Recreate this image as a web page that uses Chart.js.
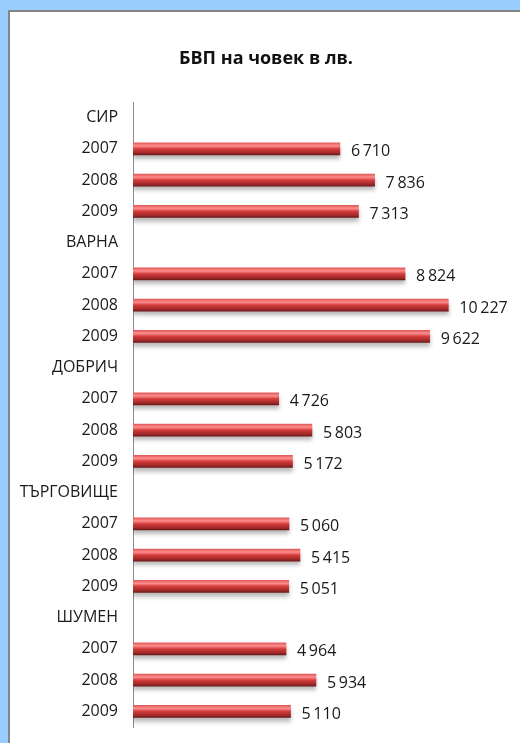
<!DOCTYPE html>
<html>
<head>
<meta charset="utf-8">
<script src="https://cdn.jsdelivr.net/npm/chart.js@4"></script>
<style>
  html, body { margin: 0; padding: 0; }
  body { width: 520px; height: 743px; background: #99ccff; position: relative; overflow: hidden; }
  .panel {
    position: absolute; left: 8px; top: 10px; right: 0; bottom: 0;
    background: #fff; border-left: 2px solid #858585; border-top: 2px solid #858585;
  }
  #chart { position: absolute; left: 0; top: 0; }
</style>
</head>
<body>
<div class="panel"></div>
<canvas id="chart" width="520" height="743"></canvas>
<script>
const regions = ['СИР', 'ВАРНА', 'ДОБРИЧ', 'ТЪРГОВИЩЕ', 'ШУМЕН'];
const years = ['2007', '2008', '2009'];
const sirValues = [6710, 7836, 7313];
const varnaValues = [8824, 10227, 9622];
const dobrichValues = [4726, 5803, 5172];
const targovishteValues = [5060, 5415, 5051];
const shumenValues = [4964, 5934, 5110];
const titleText = 'БВП на човек в лв.';

// region row (no bar) followed by its three years
const regionValues = [sirValues, varnaValues, dobrichValues, targovishteValues, shumenValues];
const labels = [];
const values = [];
regions.forEach((r, i) => {
  labels.push(r);
  values.push(null);
  years.forEach((y, j) => {
    labels.push(y);
    values.push(regionValues[i][j]);
  });
});

const fmt = v => String(v).replace(/\B(?=(\d{3})+(?!\d))/g, '\u2009');
const FONT = '"Open Sans", sans-serif';
const BAR_H = 12;

function barGradient(context) {
  const chart = context.chart;
  const y = chart.scales && chart.scales.y;
  if (!y || context.dataIndex === undefined) return '#d44';
  const yc = y.getPixelForValue(context.dataIndex);
  if (!isFinite(yc)) return '#d44';
  const g = chart.ctx.createLinearGradient(0, yc - BAR_H / 2, 0, yc + BAR_H / 2);
  g.addColorStop(0, '#e05a5a');
  g.addColorStop(0.25, '#ff8e8e');
  g.addColorStop(0.5, '#d33c3c');
  g.addColorStop(0.85, '#9e2828');
  g.addColorStop(1, '#6e1818');
  return g;
}

const titlePlugin = {
  id: 'titleText',
  afterDraw(chart) {
    const ctx = chart.ctx;
    ctx.save();
    ctx.font = 'bold 18px ' + FONT;
    ctx.fillStyle = '#111';
    ctx.textAlign = 'center';
    ctx.textBaseline = 'middle';
    ctx.fillText(titleText, 266, 59);
    ctx.restore();
  }
};

const shadowPlugin = {
  id: 'barShadow',
  beforeDatasetsDraw(chart) {
    const ctx = chart.ctx;
    ctx.save();
    ctx.shadowColor = 'rgba(0,0,0,0.28)';
    ctx.shadowBlur = 4;
    ctx.shadowOffsetY = 4;
  },
  afterDatasetsDraw(chart) {
    chart.ctx.restore();
  }
};

const valueLabels = {
  id: 'valueLabels',
  afterDatasetsDraw(chart) {
    const ctx = chart.ctx;
    const meta = chart.getDatasetMeta(0);
    ctx.save();
    ctx.font = '16px ' + FONT;
    ctx.fillStyle = '#1a1a1a';
    ctx.textAlign = 'left';
    ctx.textBaseline = 'middle';
    meta.data.forEach((bar, i) => {
      const v = values[i];
      if (v == null) return;
      ctx.fillText(fmt(v), bar.x + 11, bar.y + 3);
    });
    ctx.restore();
  }
};

const chart = new Chart(document.getElementById('chart'), {
  type: 'bar',
  data: {
    labels: labels,
    datasets: [{
      data: values,
      backgroundColor: barGradient,
      barThickness: BAR_H,
      borderWidth: 0
    }]
  },
  options: {
    indexAxis: 'y',
    responsive: false,
    animation: false,
    layout: { padding: { left: 0, right: 17, top: 102, bottom: 16 } },
    plugins: { legend: { display: false }, tooltip: { enabled: false } },
    scales: {
      x: { display: false, min: 0, max: 12000 },
      y: {
        grid: { display: false, drawTicks: false },
        border: { display: true, color: '#8c8c8c', width: 1 },
        ticks: { color: '#1a1a1a', padding: 15, font: { family: FONT, size: 16 } },
        afterFit(scale) {
          scale.width = 133;
          // don't let the label padding shrink the plot area
          scale.paddingTop = 0;
          scale.paddingBottom = 0;
        }
      }
    }
  },
  plugins: [titlePlugin, shadowPlugin, valueLabels]
});
// second pass so gradients use the laid-out scale
chart.update();
</script>
</body>
</html>
